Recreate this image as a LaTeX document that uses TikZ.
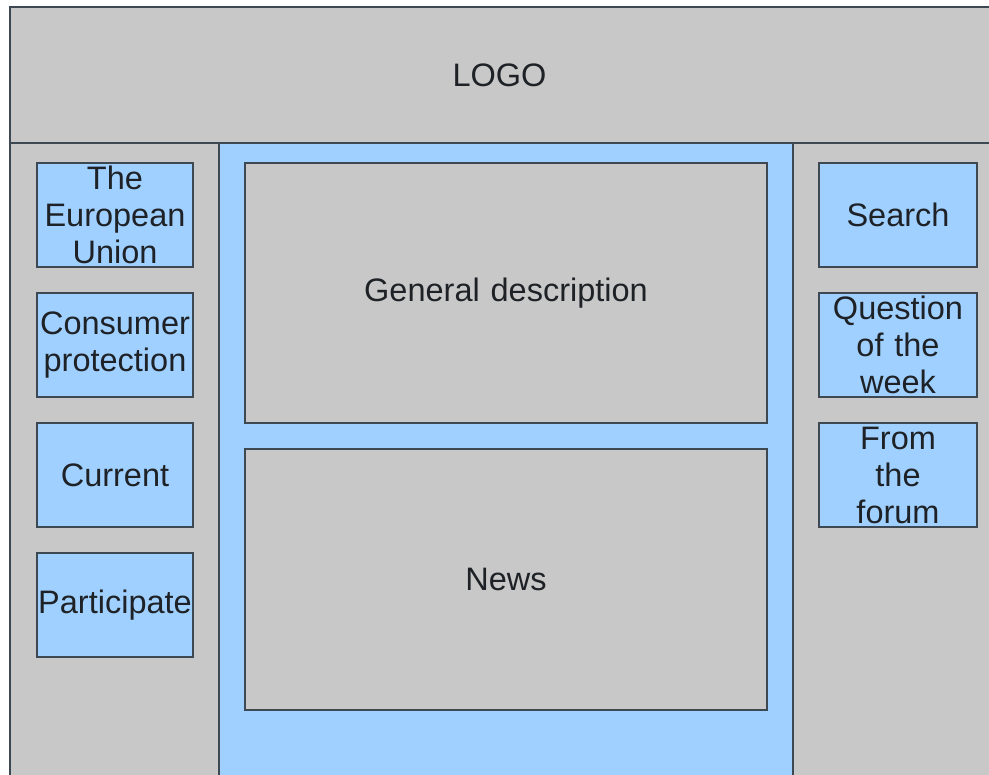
\documentclass[tikz,border=0pt]{standalone}
\usepackage{fontspec}
\setmainfont{Liberation Sans}
\definecolor{pagegrey}{RGB}{200,200,200}
\definecolor{skyblue}{RGB}{160,208,255}
\definecolor{edgecol}{RGB}{62,72,82}
\definecolor{inkcol}{RGB}{30,34,38}
\begin{document}
\begin{tikzpicture}[x=1pt,y=-1pt,
  region/.style={fill=#1, inner sep=0pt, outer sep=0pt, anchor=north west},
  edge/.style={draw=edgecol, line width=1.6pt},
  card/.style={fill=#1, draw=edgecol, line width=1.4pt, inner sep=0pt, outer sep=0pt,
    align=center, text=inkcol, font=\fontsize{32.5}{37}\selectfont},
  smallcard/.style={card=skyblue, minimum width=156pt, minimum height=104pt, text width=156pt},
  rightcard/.style={card=skyblue, minimum width=158pt, minimum height=104pt, text width=158pt},
  bigcard/.style={card=pagegrey, minimum width=522pt, minimum height=260pt, text width=522pt}
]
\useasboundingbox[fill=white] (0,0) rectangle (989,775);
% regions
\node[region=pagegrey, minimum width=979pt, minimum height=136pt, text=inkcol,
  font=\fontsize{32.5}{37}\selectfont] (header) at (10,7) {LOGO};
\node[region=pagegrey, minimum width=209pt, minimum height=632pt] (leftcol) at (10,143) {};
\node[region=skyblue, minimum width=574pt, minimum height=632pt] (midcol) at (219,143) {};
\node[region=pagegrey, minimum width=196pt, minimum height=632pt] (rightcol) at (793,143) {};
% region borders
\draw[edge] (header.south east) -- (header.south west) -- (header.north west) -- (header.north east);
\draw[edge] (header.south west) -- (leftcol.south west);
\draw[edge] (leftcol.north east) -- (leftcol.south east);
\draw[edge] (midcol.north east) -- (midcol.south east);
% left menu
\node[smallcard] (eu) at (115,215) {The\\European\\Union};
\node[smallcard] (consumer) at (115,345) {Consumer\\protection};
\node[smallcard] (current) at (115,475) {Current};
\node[smallcard] (participate) at (115,605) {\makebox[156pt]{Participate}};
% centre
\node[bigcard] (general) at (506,293) {General description};
\node[bigcard, minimum height=261pt] (news) at (506,579.5) {News};
% right
\node[rightcard] (search) at (898,215) {Search};
\node[rightcard] (question) at (898,345) {Question\\of the\\week};
\node[rightcard] (forum) at (898,475) {From\\the\\forum};
\end{tikzpicture}
\end{document}
